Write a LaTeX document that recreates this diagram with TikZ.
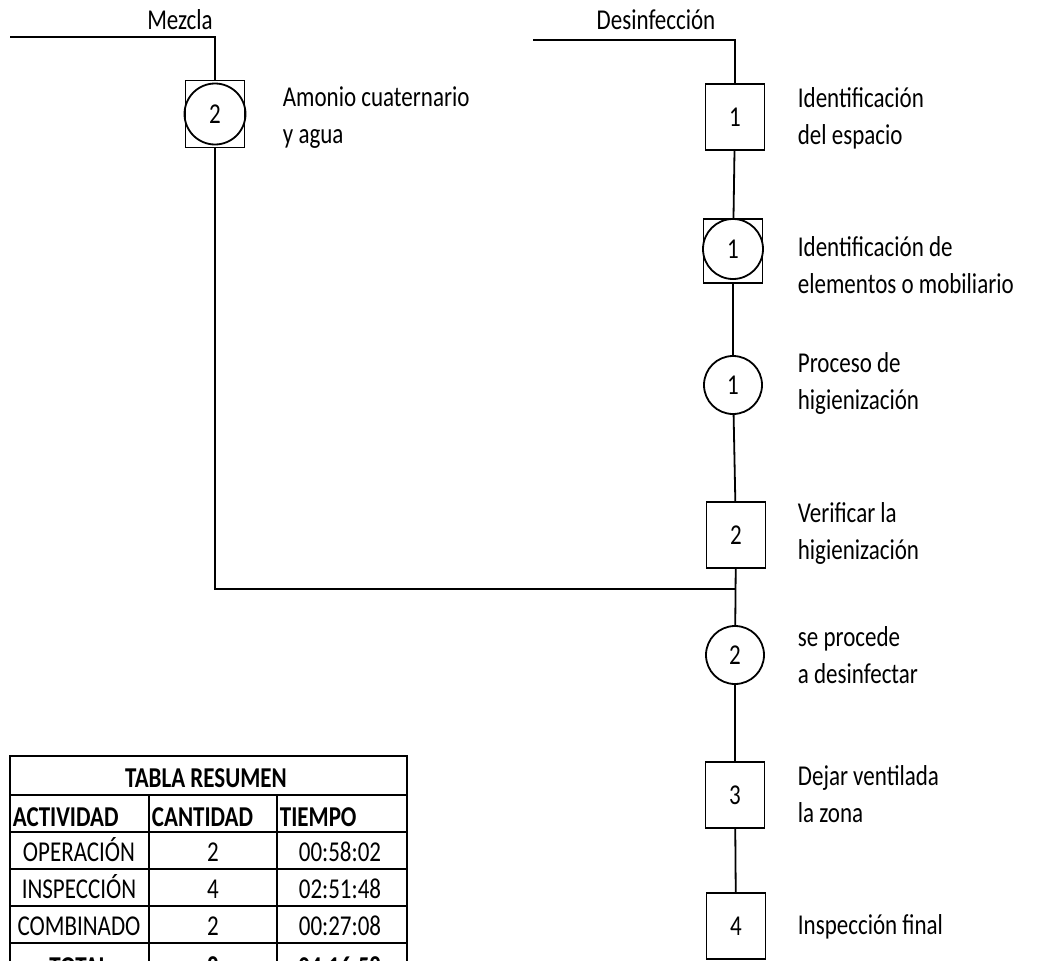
\documentclass[tikz,border=0pt]{standalone}
\usepackage{fontspec}
\setmainfont{Carlito}
\usetikzlibrary{positioning}
\newcommand{\tall}[1]{\scalebox{1}[1.25]{#1}}

\begin{document}
\begin{tikzpicture}[x=1pt, y=-1pt, line width=1.8pt,
  every node/.append style={font=\fontsize{23}{28}\selectfont},
  opcircle/.style={draw, circle, minimum size=58pt, inner sep=0pt},
  inspbox/.style={draw, rectangle, minimum width=59pt, minimum height=66pt, inner sep=0pt},
  lbl/.style={anchor=west, align=left, inner sep=0pt, font=\fontsize{23}{37}\selectfont},
  cell/.style={inner sep=0pt, anchor=base},
  hcell/.style={cell, font=\fontsize{23}{28}\selectfont\bfseries}]
  \useasboundingbox (0,0) rectangle (1042,961);
  \clip (0,0) rectangle (1042,961);

  % Mezcla branch
  \node[cell] (mezcla) at (180,29) {\tall{Mezcla}};
  \coordinate (mzL) at (10,37);
  \coordinate (mzR) at (215,37);
  \node[inspbox, minimum height=67pt] (m2) at (215,114) {};
  \node[opcircle, minimum size=61pt] (m2c) at (m2) {\tall{2}};
  \node[lbl] (m2t) at (282,118) {\tall{Amonio cuaternario}\\\tall{y agua}};

  % Desinfeccion line
  \node[cell] (desinf) at (656,29) {\tall{Desinfección}};
  \coordinate (dsL) at (533,40);
  \coordinate (dsR) at (735,40);
  \node[inspbox] (b1) at (735,117) {\tall{1}};
  \node[inspbox, minimum height=64pt] (k1) at (733,251) {};
  \node[opcircle, minimum size=60pt] (k1c) at (733,249) {\tall{1}};
  \node[opcircle] (c1) at (733,385) {\tall{1}};
  \node[inspbox] (b2) at (736,535) {\tall{2}};
  \node[opcircle] (c2) at (735,655) {\tall{2}};
  \node[inspbox] (b3) at (735,795) {\tall{3}};
  \node[inspbox] (b4) at (736,926) {\tall{4}};
  \coordinate (jn) at (735,589);

  \node[lbl] (b1t) at (797,118) {\tall{Identificación}\\\tall{del espacio}};
  \node[lbl] (k1t) at (797,265) {\tall{Identificación de}\\\tall{elementos o mobiliario}};
  \node[lbl] (c1t) at (797,383) {\tall{Proceso de}\\\tall{higienización}};
  \node[lbl] (b2t) at (797,533) {\tall{Verificar la}\\\tall{higienización}};
  \node[lbl] (c2t) at (797,655) {\tall{se procede}\\\tall{a desinfectar}};
  \node[lbl] (b3t) at (797,794) {\tall{Dejar ventilada}\\\tall{la zona}};
  \node[lbl] (b4t) at (797,927) {\tall{Inspección final}};

  \draw (mzL) -- (mzR) -- (m2);
  \draw (m2) -- (m2 |- jn) -- (jn);
  \draw (dsL) -- (dsR) -- (b1) -- (k1) -- (c1) -- (b2) -- (c2) -- (b3) -- (b4);

  % tabla resumen
  \draw (10,756) rectangle (407,990);
  \foreach \y in {795,832,869,906,943}
    \draw (10,\y) -- (407,\y);
  \draw (149,795) -- (149,990);
  \draw (277,795) -- (277,990);
  \node[hcell] (tabh) at (206,787) {\tall{TABLA RESUMEN}};
  \node[hcell, anchor=base west] (h1) at (12,826) {\tall{ACTIVIDAD}};
  \node[hcell, anchor=base west] (h2) at (151,826) {\tall{CANTIDAD}};
  \node[hcell, anchor=base west] (h3) at (279,826) {\tall{TIEMPO}};
  \node[cell] (r1a) at (79,861) {\tall{OPERACIÓN}};
  \node[cell] (r1b) at (213,861) {\tall{2}};
  \node[cell, anchor=base east] (r1c) at (382,861) {\tall{00:58:02}};
  \node[cell] (r2a) at (79,898) {\tall{INSPECCIÓN}};
  \node[cell] (r2b) at (213,898) {\tall{4}};
  \node[cell, anchor=base east] (r2c) at (382,898) {\tall{02:51:48}};
  \node[cell] (r3a) at (79,935) {\tall{COMBINADO}};
  \node[cell] (r3b) at (213,935) {\tall{2}};
  \node[cell, anchor=base east] (r3c) at (382,935) {\tall{00:27:08}};
  \node[hcell] (r4a) at (79,976) {\tall{TOTAL}};
  \node[hcell] (r4b) at (213,976) {\tall{8}};
  \node[hcell, anchor=base east] (r4c) at (382,976) {\tall{04:16:58}};
\end{tikzpicture}
\end{document}
